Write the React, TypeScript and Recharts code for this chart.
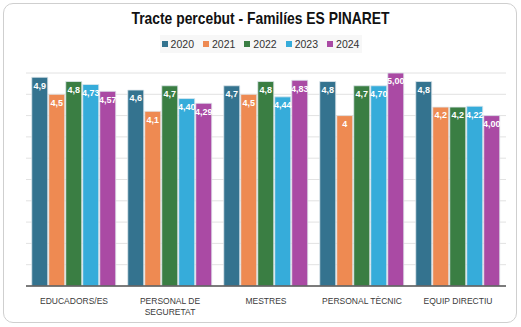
import { Bar, BarChart, CartesianGrid, LabelList, XAxis, YAxis } from "recharts";

const categories = ["EDUCADORS/ES", "PERSONAL DE SEGURETAT", "MESTRES", "PERSONAL TÈCNIC", "EQUIP DIRECTIU"];
const years = ["2020", "2021", "2022", "2023", "2024"];
const values2020 = [4.9, 4.6, 4.7, 4.8, 4.8];
const values2021 = [4.5, 4.1, 4.5, 4, 4.2];
const values2022 = [4.8, 4.7, 4.8, 4.7, 4.2];
const values2023 = [4.73, 4.4, 4.44, 4.7, 4.22];
const values2024 = [4.57, 4.29, 4.83, 5.0, 4.0];
const yTicks = [0, 0.5, 1, 1.5, 2, 2.5, 3, 3.5, 4, 4.5, 5];

const colors = ["#34738f", "#ee8a52", "#3a7e43", "#36acda", "#aa4aa4"];
// decimals shown in the labels: first three years as typed, last two fixed at 2
const decimals = [null, null, null, 2, 2];

const seriesValues = [values2020, values2021, values2022, values2023, values2024];
const data = categories.map((name, i) => {
  const row: Record<string, string | number> = { name };
  years.forEach((y, s) => {
    row[y] = seriesValues[s][i];
  });
  return row;
});

const fmt = (d: number | null) => (v: any) => {
  const n = Number(v);
  const s = d == null ? String(n) : n.toFixed(d);
  return s.replace(".", ",");
};

const FONT = "'Liberation Sans', Arial, sans-serif";

function CategoryTick(props: any) {
  const { x, y, payload } = props;
  const text: string = payload.value;
  let lines = [text];
  if (text.length > 16) {
    const idx = text.lastIndexOf(" ");
    lines = [text.slice(0, idx), text.slice(idx + 1)];
  }
  return (
    <text x={x} y={y + 10} textAnchor="middle" fontSize={8.5} fill="#3a3a3a" fontFamily={FONT}>
      {lines.map((l, i) => (
        <tspan key={i} x={x} dy={i === 0 ? 0 : 11}>
          {l}
        </tspan>
      ))}
    </text>
  );
}

function LegendBox() {
  return (
    <div
      style={{
        display: "flex",
        justifyContent: "center",
        gap: 9,
        background: "#f7f7f7",
        padding: "3px 8px",
        width: 186,
        margin: "0 auto",
        fontFamily: FONT,
        fontSize: 10.5,
        color: "#333",
      }}
    >
      {years.map((y, i) => (
        <span key={y} style={{ display: "flex", alignItems: "center", gap: 3 }}>
          <span style={{ width: 6, height: 6, background: colors[i], display: "inline-block" }} />
          {y}
        </span>
      ))}
    </div>
  );
}

export default function App() {
  return (
    <div style={{ position: "absolute", left: 0, top: 0, width: 521, height: 327, background: "#fff" }}>
      <div
        style={{
          position: "absolute",
          left: 3,
          top: 3,
          width: 512,
          height: 318,
          border: "1px solid #cfcfcf",
          borderRadius: 10,
        }}
      />
      <div
        style={{
          position: "absolute",
          left: 0,
          top: 9,
          width: 521,
          textAlign: "center",
          fontFamily: FONT,
          fontWeight: 700,
          fontSize: 16.5,
          color: "#111",
          transform: "scaleX(0.84)",
        }}
      >
        Tracte percebut - Familíes ES PINARET
      </div>
      <div style={{ position: "absolute", left: 0, top: 35, width: 521 }}>
        <LegendBox />
      </div>
      <div style={{ position: "absolute", left: 0, top: 0 }}>
        <BarChart
          width={521}
          height={327}
          data={data}
          margin={{ top: 73, right: 15, bottom: 6, left: 26 }}
          barCategoryGap="6%"
          barGap={1}
        >
          <CartesianGrid vertical={false} stroke="#e2e2e2" strokeWidth={1} />
          <XAxis
            dataKey="name"
            axisLine={{ stroke: "#555", strokeWidth: 1.5 }}
            tickLine={false}
            height={35}
            interval={0}
            tick={<CategoryTick />}
          />
          <YAxis
            width={0}
            domain={[0, 5]}
            ticks={yTicks}
            interval={0}
            tick={{ fontSize: 0, fill: "transparent" }}
            axisLine={false}
            tickLine={false}
          />
          {years.map((y, i) => (
            <Bar
              key={y}
              dataKey={y}
              fill={colors[i]}
              stroke="#dfe9ee"
              strokeWidth={0.8}
              isAnimationActive={false}
            >
              <LabelList
                dataKey={y}
                position="insideTop"
                offset={5}
                fill="#fff"
                fontSize={9}
                fontWeight={700}
                fontFamily={FONT}
                formatter={fmt(decimals[i])}
              />
            </Bar>
          ))}
        </BarChart>
      </div>
    </div>
  );
}
